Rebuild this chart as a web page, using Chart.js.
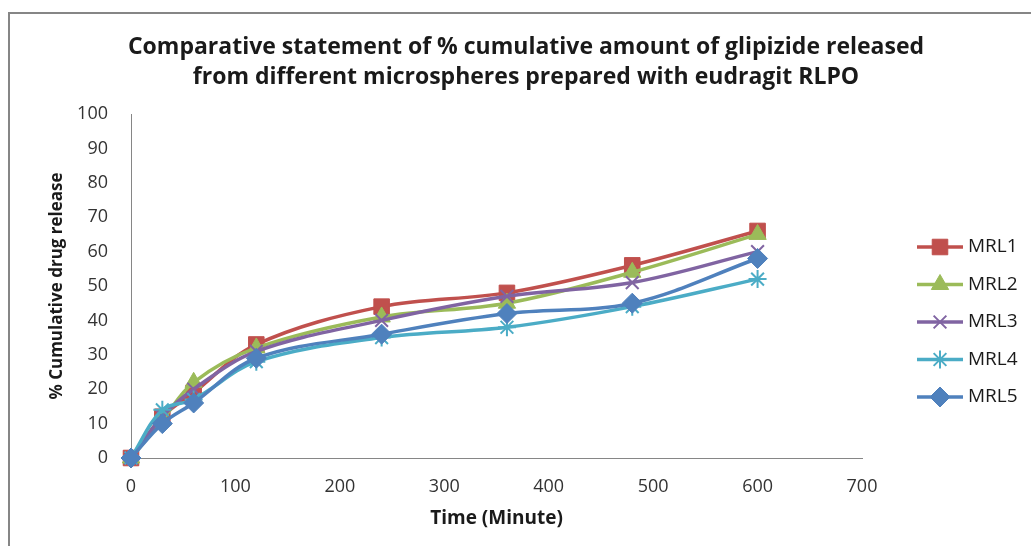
<!DOCTYPE html>
<html>
<head>
<meta charset="utf-8">
<title>Glipizide release - eudragit RLPO</title>
<script src="https://cdn.jsdelivr.net/npm/chart.js@4.4.1/dist/chart.umd.min.js"></script>
<style>
    html, body { margin: 0; padding: 0; background: #fff; }
    #wrap { width: 1031px; height: 546px; }
</style>
</head>
<body>
<div id="wrap"><canvas id="releaseChart" width="1031" height="546"></canvas></div>
<script>
// Tempos de coleta (minutos)
const tempos = [0, 30, 60, 120, 240, 360, 480, 600];

// % liberada acumulada de cada formulação
const mrl1 = [0, 12, 19, 33, 44, 48, 56, 66];
const mrl2 = [0, 11, 22, 32, 41, 45, 54, 65];
const mrl3 = [0, 12, 20, 31, 40, 47, 51, 60];
const mrl4 = [0, 14, 17, 28, 35, 38, 44, 52];
const mrl5 = [0, 10, 16, 29, 36, 42, 45, 58];

const nomes = ['MRL1', 'MRL2', 'MRL3', 'MRL4', 'MRL5'];
const valores = [mrl1, mrl2, mrl3, mrl4, mrl5];
const cores = ['#C0504D', '#9BBB59', '#8064A2', '#4BACC6', '#4F81BD'];
const marcadores = ['rect', 'triangle', 'crossRot', 'star', 'rectRot'];
const raios = [11, 10, 9, 9, 10];

const titulo = [
    'Comparative statement of % cumulative amount of glipizide released',
    'from different microspheres prepared with eudragit RLPO'
];

const fonte = "'Open Sans', 'Liberation Sans', sans-serif";

// Monta os datasets a partir das listas acima
const datasets = nomes.map((nome, i) => {
    const semPreenchimento = marcadores[i] === 'crossRot' || marcadores[i] === 'star';
    return {
        label: nome,
        data: tempos.map((t, j) => ({ x: t, y: valores[i][j] })),
        borderColor: cores[i],
        backgroundColor: cores[i],
        borderWidth: 3.5,
        tension: 0.35,
        pointStyle: marcadores[i],
        pointRadius: raios[i],
        pointHoverRadius: raios[i],
        pointBackgroundColor: cores[i],
        pointBorderColor: cores[i],
        pointBorderWidth: semPreenchimento ? 2 : 1,
        clip: false,
        order: nomes.length - i   // última série fica por cima
    };
});

// Moldura cinza e título centralizado na área toda
const moldura = {
    id: 'moldura',
    beforeDraw(chart) {
        const ctx = chart.ctx;
        ctx.save();
        ctx.fillStyle = '#ffffff';
        ctx.fillRect(0, 0, chart.width, chart.height);
        ctx.fillStyle = '#868686';
        ctx.fillRect(8, 12, 2, chart.height - 12);
        ctx.fillRect(8, 12, chart.width - 8, 2);
        ctx.restore();
    },
    afterDraw(chart) {
        const ctx = chart.ctx;
        ctx.save();
        ctx.fillStyle = '#1a1a1a';
        ctx.font = 'bold 23px ' + fonte;
        ctx.textAlign = 'center';
        ctx.textBaseline = 'middle';
        titulo.forEach((linha, i) => ctx.fillText(linha, 526, 47 + i * 30));
        ctx.restore();
    }
};

// Legenda com linha + marcador, à direita
const legendaLinhas = {
    id: 'legendaLinhas',
    afterDraw(chart) {
        const ctx = chart.ctx;
        const x0 = 917, x1 = 963, passo = 37.5, yInicio = 247;
        ctx.save();
        chart.data.datasets.forEach((ds, i) => {
            const y = yInicio + i * passo;
            ctx.strokeStyle = ds.borderColor;
            ctx.lineWidth = ds.borderWidth;
            ctx.beginPath();
            ctx.moveTo(x0, y);
            ctx.lineTo(x1, y);
            ctx.stroke();

            ctx.fillStyle = ds.pointBackgroundColor;
            ctx.strokeStyle = ds.pointBorderColor;
            ctx.lineWidth = ds.pointBorderWidth;
            Chart.helpers.drawPoint(ctx, {
                pointStyle: ds.pointStyle,
                radius: ds.pointRadius,
                borderWidth: ds.pointBorderWidth,
                rotation: 0
            }, (x0 + x1) / 2, y);

            ctx.fillStyle = '#1a1a1a';
            ctx.font = '19px ' + fonte;
            ctx.textAlign = 'left';
            ctx.textBaseline = 'middle';
            ctx.fillText(ds.label, x1 + 5, y);
        });
        ctx.restore();
    }
};

const ctx = document.getElementById('releaseChart').getContext('2d');
const releaseChart = new Chart(ctx, {
    type: 'line',
    data: { datasets: datasets },
    options: {
        responsive: false,
        animation: false,
        devicePixelRatio: 1,
        layout: {
            padding: { left: 14, right: 169, top: 114, bottom: 0 }
        },
        plugins: {
            legend: { display: false },
            tooltip: { enabled: false },
            title: { display: false }
        },
        scales: {
            x: {
                type: 'linear',
                min: 0,
                max: 700,
                ticks: {
                    stepSize: 100,
                    color: '#333',
                    padding: 18,
                    font: { family: fonte, size: 18 }
                },
                grid: { display: false, drawTicks: false },
                border: { display: true, color: '#868686', width: 1 },
                title: {
                    display: true,
                    text: 'Time (Minute)',
                    color: '#1a1a1a',
                    font: { family: fonte, size: 19, weight: 'bold' },
                    padding: { top: 0, bottom: 16 }
                },
                afterFit(scale) { scale.height = 88; }
            },
            y: {
                min: 0,
                max: 100,
                ticks: {
                    stepSize: 10,
                    color: '#333',
                    padding: 23,
                    font: { family: fonte, size: 18 }
                },
                grid: { display: false, drawTicks: false },
                border: { display: true, color: '#868686', width: 1 },
                title: {
                    display: true,
                    text: '% Cumulative drug release',
                    color: '#1a1a1a',
                    font: { family: fonte, size: 17, weight: 'bold' },
                    padding: { top: 33, bottom: 0 }
                },
                afterFit(scale) { scale.width = 117; }
            }
        }
    },
    plugins: [moldura, legendaLinhas]
});
</script>
</body>
</html>
